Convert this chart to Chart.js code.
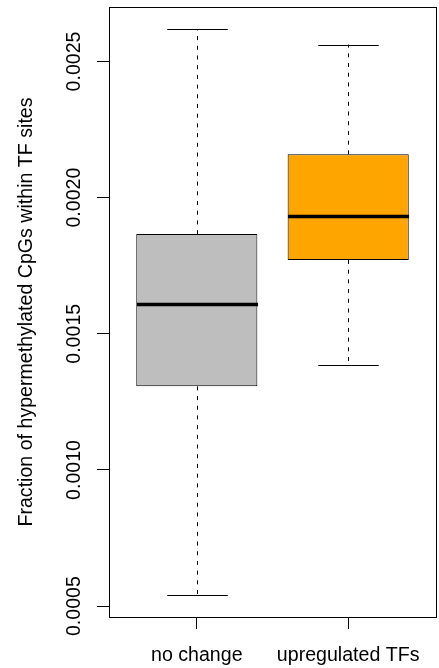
<!DOCTYPE html>
<html>
<head>
<meta charset="utf-8">
<script src="https://cdn.jsdelivr.net/npm/chart.js@4.4.1/dist/chart.umd.min.js"></script>
<style>
  html, body { margin: 0; padding: 0; background: #ffffff; }
  #wrap { width: 439px; height: 668px; }
</style>
</head>
<body>
<div id="wrap"><canvas id="chart" width="439" height="668"></canvas></div>
<script>
// box plot stats
const categories = ['no change', 'upregulated TFs'];
const xPos = [1, 2];
const whiskerLow = [0.00054, 0.001386];
const lowerQuartile = [0.001307, 0.001771];
const medians = [0.0016075, 0.001931];
const upperQuartile = [0.001866, 0.002159];
const whiskerHigh = [0.002619, 0.002562];
const boxColors = ['#BEBEBE', '#FFA500'];
const yTicks = [0.0005, 0.0010, 0.0015, 0.0020, 0.0025];

const FONT = 'Liberation Sans, Arial, Helvetica, sans-serif';

// whiskers, caps, medians and the frame round the plot region (R style)
const boxExtras = {
  id: 'boxExtras',
  afterDatasetsDraw(chart) {
    const { ctx, chartArea } = chart;
    const xs = chart.scales.x;
    const ys = chart.scales.y;
    const unit = xs.getPixelForValue(2) - xs.getPixelForValue(1);
    ctx.save();
    ctx.strokeStyle = '#000000';
    categories.forEach((c, i) => {
      const xc = Math.round(xs.getPixelForValue(xPos[i])) + 0.5;
      const capHalf = unit * 0.2;
      const boxHalf = unit * 0.4;
      // dashed whiskers
      ctx.lineWidth = 1;
      ctx.setLineDash([4, 5.7]);
      ctx.beginPath();
      ctx.moveTo(xc, ys.getPixelForValue(upperQuartile[i]));
      ctx.lineTo(xc, ys.getPixelForValue(whiskerHigh[i]));
      ctx.moveTo(xc, ys.getPixelForValue(lowerQuartile[i]));
      ctx.lineTo(xc, ys.getPixelForValue(whiskerLow[i]));
      ctx.stroke();
      // caps
      ctx.setLineDash([]);
      ctx.beginPath();
      [whiskerHigh[i], whiskerLow[i]].forEach(v => {
        const y = Math.round(ys.getPixelForValue(v)) + 0.5;
        ctx.moveTo(xc - capHalf, y);
        ctx.lineTo(xc + capHalf, y);
      });
      ctx.stroke();
      // median
      ctx.lineWidth = 3.5;
      ctx.beginPath();
      const ym = ys.getPixelForValue(medians[i]);
      ctx.moveTo(xc - boxHalf, ym);
      ctx.lineTo(xc + boxHalf, ym);
      ctx.stroke();
    });
    ctx.lineWidth = 1;
    ctx.strokeRect(Math.round(chartArea.left) + 0.5, Math.round(chartArea.top) + 0.5,
      Math.round(chartArea.right - chartArea.left), Math.round(chartArea.bottom - chartArea.top));
    ctx.restore();
  }
};

const ctx = document.getElementById('chart').getContext('2d');
new Chart(ctx, {
  type: 'bar',
  data: {
    datasets: [{
      data: categories.map((c, i) => ({ x: xPos[i], y: [lowerQuartile[i], upperQuartile[i]] })),
      backgroundColor: boxColors,
      borderColor: '#000000',
      borderWidth: 1,
      borderSkipped: false,
      categoryPercentage: 1,
      barPercentage: 0.8,
    }],
  },
  options: {
    responsive: false,
    animation: false,
    devicePixelRatio: 1,
    layout: { padding: { left: 0, top: 7, right: 3, bottom: 0 } },
    plugins: {
      legend: { display: false },
      tooltip: { enabled: false },
    },
    scales: {
      x: {
        type: 'linear',
        offset: false,
        min: 0.42,
        max: 2.58,
        afterBuildTicks: (scale) => { scale.ticks = xPos.map(v => ({ value: v })); },
        afterFit: (scale) => { scale.height = 51; },
        border: { display: false },
        grid: { offset: false, drawOnChartArea: false, drawTicks: true, tickLength: 12, color: '#000000' },
        ticks: {
          maxRotation: 0,
          minRotation: 0,
          padding: 17,
          color: '#000000',
          font: { family: FONT, size: 19.6, lineHeight: 1 },
          callback: (v) => categories[xPos.indexOf(v)] || '',
        },
      },
      y: {
        min: 0.00046,
        max: 0.0027,
        afterBuildTicks: (scale) => { scale.ticks = yTicks.map(v => ({ value: v })); },
        afterFit: (scale) => { scale.width = 109; },
        border: { display: false },
        grid: { drawOnChartArea: false, drawTicks: true, tickLength: 12, color: '#000000' },
        ticks: {
          minRotation: 90,
          maxRotation: 90,
          crossAlign: 'center',
          padding: -8,
          color: '#000000',
          font: { family: FONT, size: 19.6, lineHeight: 1.2 },
          callback: (v) => v.toFixed(4),
        },
        title: {
          display: true,
          text: 'Fraction of hypermethylated CpGs within TF sites',
          color: '#000000',
          font: { family: FONT, size: 19.6, lineHeight: 1.2 },
          padding: { top: 15.2, bottom: 40 },
        },
      },
    },
  },
  plugins: [boxExtras],
});
</script>
</body>
</html>
